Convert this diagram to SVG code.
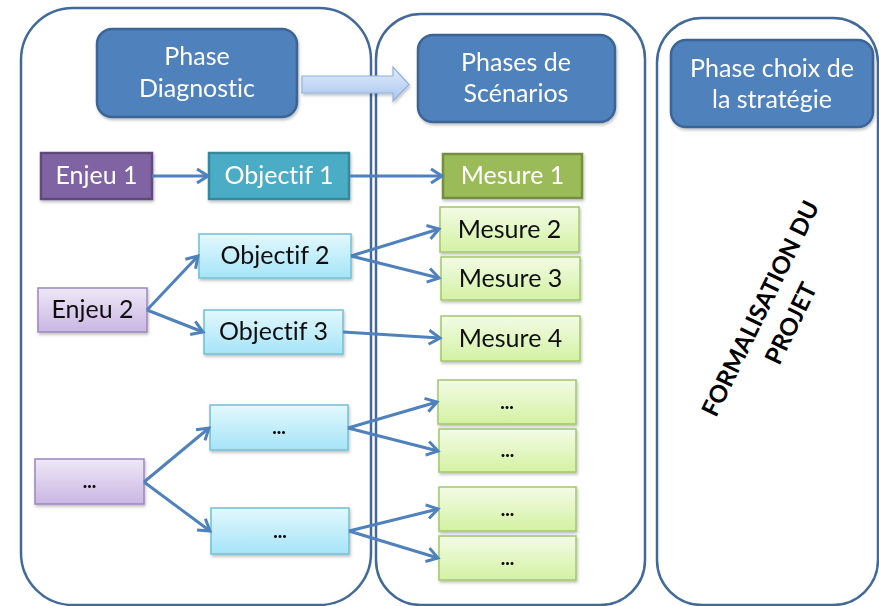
<svg xmlns="http://www.w3.org/2000/svg" width="879" height="606" viewBox="0 0 879 606">
<style>
text{font-family:Lato,"Liberation Sans",sans-serif;font-size:25px;text-anchor:middle;font-variant-ligatures:none;font-feature-settings:"liga" 0}
.panel{fill:none;stroke:#41699B;stroke-width:2.5}
.head{fill:#4F81BD;stroke:#3B6595;stroke-width:2.5}
.wt{fill:#fff}
.bk{fill:#111}
.dots{font-size:19px;font-weight:900;fill:#111}
.lp{fill:url(#gp);stroke:#9C87BD;stroke-width:1.5}
.lc{fill:url(#gc);stroke:#70C0D6;stroke-width:1.5}
.lg{fill:url(#gg);stroke:#A3C76B;stroke-width:1.5}
.conn line{stroke:#4F81BD;stroke-width:3;fill:none;marker-end:url(#ah)}
.sh{filter:url(#ds)}
</style>
<defs>
<linearGradient id="gp" x1="0" y1="0" x2="0" y2="1"><stop offset="0" stop-color="#EEE8F7"/><stop offset="1" stop-color="#CAB6E3"/></linearGradient>
<linearGradient id="gc" x1="0" y1="0" x2="0" y2="1"><stop offset="0" stop-color="#E3F8FD"/><stop offset="1" stop-color="#A5E4F8"/></linearGradient>
<linearGradient id="gg" x1="0" y1="0" x2="0" y2="1"><stop offset="0" stop-color="#F3FBE6"/><stop offset="1" stop-color="#D3F2A2"/></linearGradient>
<linearGradient id="ga" x1="0" y1="0" x2="0" y2="1"><stop offset="0" stop-color="#E2ECFA"/><stop offset="1" stop-color="#A9C6EE"/></linearGradient>
<filter id="ds" x="-10%" y="-10%" width="130%" height="140%"><feDropShadow dx="1" dy="2" stdDeviation="1.5" flood-color="#000" flood-opacity="0.25"/></filter>
<marker id="ah" markerUnits="userSpaceOnUse" markerWidth="18" markerHeight="18" viewBox="0 0 18 18" refX="15" refY="9" orient="auto">
<path d="M4,2 L15,9 L4,16" fill="none" stroke="#4F81BD" stroke-width="3"/>
</marker>
</defs>

<g id="panel-diagnostic"><rect class="panel" x="21" y="8" width="350" height="597" rx="52"/></g>
<g id="panel-scenarios"><rect class="panel" x="376" y="14" width="269" height="591" rx="45"/></g>
<g id="panel-strategie"><rect class="panel" x="657" y="18" width="221" height="587" rx="45"/></g>

<g id="phase-diagnostic" class="sh"><rect class="head" x="97" y="29" width="200" height="88" rx="15"/>
<text class="wt" x="197" y="65">Phase</text><text class="wt" x="197" y="97">Diagnostic</text></g>
<g id="phases-scenarios" class="sh"><rect class="head" x="418" y="35" width="197" height="87" rx="15"/>
<text class="wt" x="516" y="71">Phases de</text><text class="wt" x="516" y="102">Scénarios</text></g>
<g id="phase-strategie" class="sh"><rect class="head" x="671" y="40" width="202" height="87" rx="15"/>
<text class="wt" x="772" y="77">Phase choix de</text><text class="wt" x="772" y="108">la stratégie</text></g>

<g id="block-arrow" class="sh"><polygon points="302,76 393,76 393,67 409,84.5 393,101 393,93 302,93" fill="url(#ga)" stroke="#8FB2E2" stroke-width="1.2"/></g>

<g id="enjeu1" class="sh"><rect x="41" y="153" width="111" height="46" fill="#8064A2" stroke="#5F4A7E" stroke-width="2.5"/><text class="wt" x="96.5" y="184">Enjeu 1</text></g>
<g id="objectif1" class="sh"><rect x="209" y="153" width="140" height="46" fill="#4BACC6" stroke="#35889E" stroke-width="2.5"/><text class="wt" x="279" y="184">Objectif 1</text></g>
<g id="mesure1" class="sh"><rect x="443" y="154" width="139" height="44" fill="#9BBB59" stroke="#748E3F" stroke-width="2.5"/><text class="wt" x="512.5" y="184">Mesure 1</text></g>

<g id="enjeu2" class="sh"><rect class="lp" x="38" y="288" width="109" height="44"/><text class="bk" x="92.5" y="318">Enjeu 2</text></g>
<g id="objectif2" class="sh"><rect class="lc" x="199" y="234" width="152" height="44"/><text class="bk" x="275" y="264">Objectif 2</text></g>
<g id="objectif3" class="sh"><rect class="lc" x="204" y="310" width="139" height="44"/><text class="bk" x="273.5" y="340">Objectif 3</text></g>
<g id="mesure2" class="sh"><rect class="lg" x="440" y="207" width="139" height="45"/><text class="bk" x="509.5" y="238">Mesure 2</text></g>
<g id="mesure3" class="sh"><rect class="lg" x="441" y="257" width="139" height="43"/><text class="bk" x="510.5" y="287">Mesure 3</text></g>
<g id="mesure4" class="sh"><rect class="lg" x="441" y="316" width="139" height="45"/><text class="bk" x="510.5" y="347">Mesure 4</text></g>

<g id="enjeu-etc" class="sh"><rect class="lp" x="35" y="459" width="109" height="45"/><text class="dots" x="89.5" y="488">...</text></g>
<g id="objectif-etc-a" class="sh"><rect class="lc" x="210" y="405" width="138" height="45"/><text class="dots" x="279" y="434">...</text></g>
<g id="objectif-etc-b" class="sh"><rect class="lc" x="211" y="508" width="138" height="46"/><text class="dots" x="280" y="538">...</text></g>
<g id="mesure-etc-1" class="sh"><rect class="lg" x="438" y="380" width="138" height="44"/><text class="dots" x="507" y="409">...</text></g>
<g id="mesure-etc-2" class="sh"><rect class="lg" x="439" y="429" width="137" height="43"/><text class="dots" x="507.5" y="457">...</text></g>
<g id="mesure-etc-3" class="sh"><rect class="lg" x="439" y="487" width="137" height="44"/><text class="dots" x="507.5" y="516">...</text></g>
<g id="mesure-etc-4" class="sh"><rect class="lg" x="439" y="536" width="137" height="44"/><text class="dots" x="507.5" y="565">...</text></g>

<g id="formalisation" transform="translate(776,316) rotate(-64)">
<text x="0" y="-9" style="font-weight:bold;font-size:24px;fill:#000">FORMALISATION DU</text>
<text x="0" y="25" style="font-weight:bold;font-size:24px;fill:#000">PROJET</text>
</g>

<g id="connectors" class="conn">
<line x1="152" y1="176" x2="208" y2="176"/>
<line x1="349" y1="176" x2="442" y2="176"/>
<line x1="147" y1="310" x2="198" y2="256"/>
<line x1="147" y1="310" x2="203" y2="332"/>
<line x1="351" y1="256" x2="439" y2="229"/>
<line x1="351" y1="256" x2="439" y2="278"/>
<line x1="343" y1="332" x2="440" y2="338"/>
<line x1="144" y1="482" x2="209" y2="428"/>
<line x1="144" y1="482" x2="210" y2="531"/>
<line x1="348" y1="428" x2="437" y2="402"/>
<line x1="348" y1="428" x2="438" y2="451"/>
<line x1="349" y1="531" x2="438" y2="509"/>
<line x1="349" y1="531" x2="438" y2="558"/>
</g>
</svg>
